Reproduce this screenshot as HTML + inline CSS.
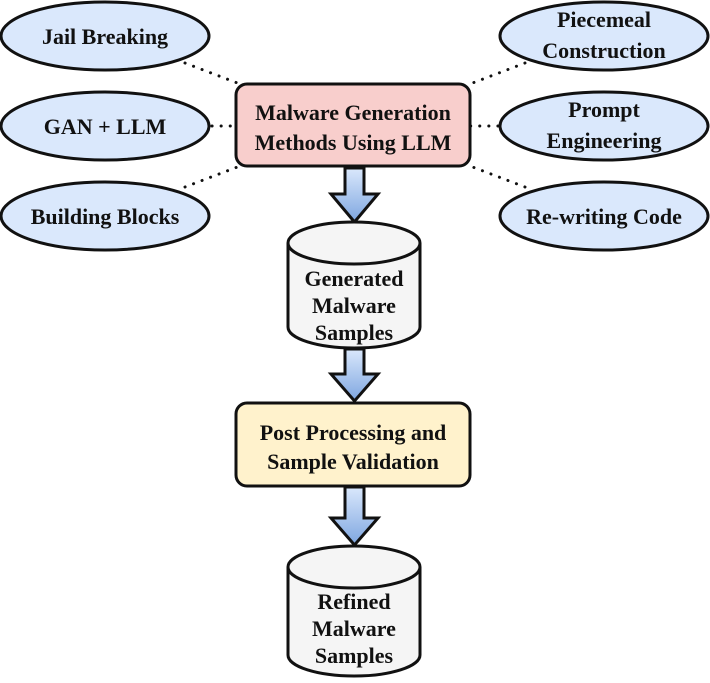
<!DOCTYPE html>
<html><head><meta charset="utf-8"><style>
html,body{margin:0;padding:0;background:#fff;}
text{font-family:"Liberation Serif",serif;font-weight:bold;font-size:22px;fill:#111;text-anchor:middle;}
</style></head><body>
<svg width="710" height="678" viewBox="0 0 710 678" xmlns="http://www.w3.org/2000/svg">
<defs>
<linearGradient id="ag" x1="0" y1="0" x2="0" y2="1"><stop offset="0" stop-color="#dae8fc"/><stop offset="1" stop-color="#7ea6e0"/></linearGradient>
</defs>
<g stroke="#111" stroke-width="3" stroke-dasharray="0.1 9" stroke-linecap="round" fill="none">
<line x1="185" y1="63" x2="240" y2="84"/>
<line x1="212" y1="126" x2="236" y2="126"/>
<line x1="185" y1="187" x2="240" y2="166"/>
<line x1="525" y1="63" x2="470" y2="84"/>
<line x1="498" y1="126" x2="470" y2="126"/>
<line x1="525" y1="187" x2="470" y2="166"/>
</g>
<g fill="#dae8fc" stroke="#111" stroke-width="3">
<ellipse cx="105" cy="36" rx="104" ry="34"/>
<ellipse cx="105" cy="126" rx="104" ry="34"/>
<ellipse cx="105" cy="216" rx="104" ry="34"/>
<ellipse cx="604" cy="36" rx="104" ry="34"/>
<ellipse cx="604" cy="126" rx="104" ry="34"/>
<ellipse cx="604" cy="216" rx="104" ry="34"/>
</g>
<text x="105" y="44">Jail Breaking</text>
<text x="105" y="134">GAN + LLM</text>
<text x="105" y="224">Building Blocks</text>
<text x="604" y="27">Piecemeal</text>
<text x="604" y="58">Construction</text>
<text x="604" y="117">Prompt</text>
<text x="604" y="148">Engineering</text>
<text x="604" y="224">Re-writing Code</text>

<rect x="236" y="84" width="234" height="82" rx="11" fill="#f8cecc" stroke="#111" stroke-width="3"/>
<text x="353" y="120">Malware Generation</text>
<text x="353" y="150">Methods Using LLM</text>

<g fill="url(#ag)" stroke="#111" stroke-width="3" stroke-linejoin="miter">
<path d="M345,168 L364,168 L364,194 L378,194 L354.5,222 L331,194 L345,194 Z"/>
<path d="M345,349 L364,349 L364,374 L378,374 L354.5,401 L331,374 L345,374 Z"/>
<path d="M345,487 L364,487 L364,518 L378,518 L354.5,545 L331,518 L345,518 Z"/>
</g>

<g fill="#f5f5f5" stroke="#111" stroke-width="3">
<path d="M288,243 A66,21 0 0 1 420,243 L420,327 A66,21 0 0 1 288,327 Z"/>
<path d="M288,243 A66,21 0 0 0 420,243" fill="none"/>
<path d="M288,567 A66,21 0 0 1 420,567 L420,655 A66,21 0 0 1 288,655 Z"/>
<path d="M288,567 A66,21 0 0 0 420,567" fill="none"/>
</g>
<text x="354" y="286">Generated</text>
<text x="354" y="313">Malware</text>
<text x="354" y="340">Samples</text>

<rect x="236" y="403" width="234" height="83" rx="11" fill="#fff2cc" stroke="#111" stroke-width="3"/>
<text x="353" y="440">Post Processing and</text>
<text x="353" y="469">Sample Validation</text>

<text x="354" y="609">Refined</text>
<text x="354" y="636">Malware</text>
<text x="354" y="663">Samples</text>
</svg>
</body></html>
